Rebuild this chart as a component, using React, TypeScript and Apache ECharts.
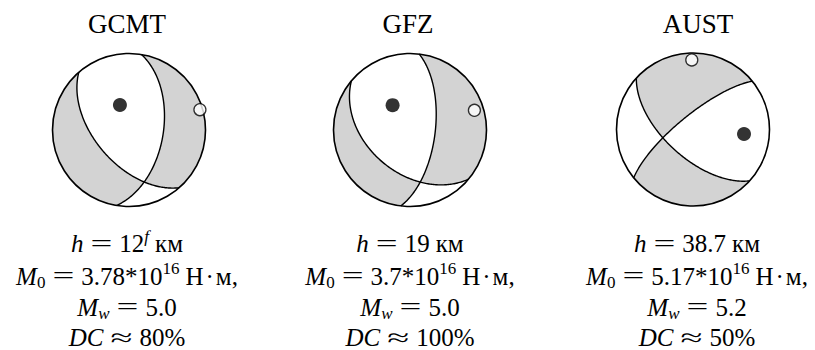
import React, { useEffect, useRef } from "react";
import * as echarts from "echarts";

// ---- data ----
const agencies = ["GCMT", "GFZ", "AUST"];
// nodal planes [strike, dip] (deg)
const plane1 = [[139, 54], [130, 44], [132.2, 60.7]];
const plane2 = [[9.4, 53], [6.9, 63], [230.8, 75]];
// axes [trend, plunge] (deg)
const solidAxis = [[340, 61.6], [325, 57.4], [95, 33.5]];
const openAxis = [[74, 4], [73, 13], [359, 10]];
// annotation values
const depthValues = ["12", "19", "38.7"];
const depthFlags = ["f", "", ""];
const m0Mantissa = ["3.78", "3.7", "5.17"];
const m0Exponent = ["16", "16", "16"];
const mwValues = ["5.0", "5.0", "5.2"];
const dcPercent = ["80", "100", "50"];

// ---- layout ----
const CX = [129, 410, 693];
const CY = [130, 130, 129.5];
const R = 76.5;
const TEXT_X = [127, 410, 697];
const TITLE_X = [127, 408, 698];
const FONT_STACK = "'Liberation Serif', 'Times New Roman', serif";
const GRAY = "#d3d3d3";
const BASE = 25;
const SMALL = 17;
const GAP = 7;
const BASELINES = [252, 284.5, 315.5, 346];
const TITLE_BASELINE = 33.5;
const CENTRAL = 0.3375; // central baseline offset of the font (em)

const rad = Math.PI / 180;
type V = number[];
const dot = (a: V, b: V) => a[0] * b[0] + a[1] * b[1] + a[2] * b[2];
const cross = (a: V, b: V) => [
  a[1] * b[2] - a[2] * b[1],
  a[2] * b[0] - a[0] * b[2],
  a[0] * b[1] - a[1] * b[0],
];
function planeVectors(strike: number, dip: number) {
  const st = strike * rad, dp = dip * rad;
  const s = [Math.cos(st), Math.sin(st), 0];
  const d = [-Math.sin(st) * Math.cos(dp), Math.cos(st) * Math.cos(dp), Math.sin(dp)];
  const n = [-Math.sin(dp) * Math.sin(st), Math.sin(dp) * Math.cos(st), -Math.cos(dp)];
  return { s, d, n, strike };
}
function project(v: V) {
  let w = v;
  if (w[2] < 0) w = [-w[0], -w[1], -w[2]];
  const k = Math.sqrt(1 + w[2]);
  return [w[1] / k, w[0] / k];
}
function axisVec(tp: number[]) {
  const t = tp[0] * rad, p = tp[1] * rad;
  return [Math.cos(p) * Math.cos(t), Math.cos(p) * Math.sin(t), Math.sin(p)];
}
const planePoint = (p: any, a: number) => [
  Math.cos(a) * p.s[0] + Math.sin(a) * p.d[0],
  Math.cos(a) * p.s[1] + Math.sin(a) * p.d[1],
  Math.cos(a) * p.s[2] + Math.sin(a) * p.d[2],
];
const mod360 = (x: number) => ((x % 360) + 360) % 360;

function buildBall(i: number) {
  const P1 = planeVectors(plane1[i][0], plane1[i][1]);
  const P2 = planeVectors(plane2[i][0], plane2[i][1]);
  const planes = [P1, P2];
  let B = cross(P1.n, P2.n);
  const bl = Math.hypot(B[0], B[1], B[2]);
  B = B.map((x) => x / bl);
  if (B[2] < 0) B = B.map((x) => -x);
  const aB = planes.map((p) => Math.atan2(dot(B, p.d), dot(B, p.s)));
  const ends: any[] = [];
  planes.forEach((p, k) => {
    ends.push({ az: mod360(p.strike), k, a: 0 });
    ends.push({ az: mod360(p.strike + 180), k, a: Math.PI });
  });
  ends.sort((a, b) => a.az - b.az);
  const ref = axisVec(solidAxis[i]);
  const refSign = Math.sign(dot(ref, P1.n) * dot(ref, P2.n));
  const N = 80;
  const regions: any[] = [];
  for (let j = 0; j < 4; j++) {
    const P = ends[j], Q = ends[(j + 1) % 4];
    let az2 = Q.az;
    if (az2 <= P.az) az2 += 360;
    const pts: number[][] = [];
    for (let t = 0; t <= N; t++) {
      const az = (P.az + ((az2 - P.az) * t) / N) * rad;
      pts.push([Math.sin(az), Math.cos(az)]);
    }
    for (let t = 1; t <= N; t++) {
      const a = Q.a + ((aB[Q.k] - Q.a) * t) / N;
      pts.push(project(planePoint(planes[Q.k], a)));
    }
    for (let t = 1; t < N; t++) {
      const a = aB[P.k] + ((P.a - aB[P.k]) * t) / N;
      pts.push(project(planePoint(planes[P.k], a)));
    }
    const mid = ((P.az + az2) / 2) * rad;
    const v = [Math.cos(mid), Math.sin(mid), 0];
    const sg = Math.sign(dot(v, P1.n) * dot(v, P2.n));
    regions.push({ pts, shaded: sg !== refSign });
  }
  const lines = planes.map((p) => {
    const pts: number[][] = [];
    for (let t = 0; t <= 2 * N; t++) pts.push(project(planePoint(p, (Math.PI * t) / (2 * N))));
    return pts;
  });
  return { regions, lines };
}

function makeRenderItem(i: number) {
  const ball = buildBall(i);
  return (params: any, api: any) => {
    const c = api.coord([0, 0]);
    const r = api.size([2, 2])[0] / 2;
    const children: any[] = [];
    children.push({
      type: "circle",
      shape: { cx: c[0], cy: c[1], r },
      style: { fill: "#ffffff", stroke: "none" },
    });
    ball.regions.forEach((rg: any) => {
      if (!rg.shaded) return;
      children.push({
        type: "polygon",
        shape: { points: rg.pts.map((p: number[]) => api.coord(p)) },
        style: { fill: GRAY, stroke: "none" },
      });
    });
    ball.lines.forEach((ln) => {
      children.push({
        type: "polyline",
        shape: { points: ln.map((p) => api.coord(p)) },
        style: { fill: "none", stroke: "#000", lineWidth: 1.4 },
      });
    });
    children.push({
      type: "circle",
      shape: { cx: c[0], cy: c[1], r },
      style: { fill: "none", stroke: "#000", lineWidth: 1.6 },
    });
    return { type: "group", children };
  };
}

// ---- text tokens ----
type Tok = { t?: string; it?: boolean; sz?: number; dy?: number; sx?: number; gap?: number };
const it = (t: string): Tok => ({ t, it: true });
const rm = (t: string): Tok => ({ t });
const sup = (t: string, italic = false): Tok => ({ t, it: italic, sz: SMALL, dy: -10 });
const sub = (t: string, italic = false): Tok => ({ t, it: italic, sz: SMALL, dy: 4 });
const op = (t: string, sx: number): Tok => ({ t, sx });
const gap = (g: number): Tok => ({ gap: g });

function textLines(i: number): Tok[][] {
  const l1: Tok[] = [it("h"), gap(GAP), op("=", 1.55), gap(GAP), rm(depthValues[i])];
  if (depthFlags[i]) l1.push(sup(depthFlags[i], true));
  l1.push(gap(6), rm("км"));
  return [
    l1,
    [it("M"), sub("0"), gap(GAP), op("=", 1.55), gap(GAP), rm(`${m0Mantissa[i]}*10`), sup(m0Exponent[i]),
      gap(6), rm("Н"), gap(2), rm("·"), gap(2), rm("м,")],
    [it("M"), sub("w", true), gap(GAP), op("=", 1.55), gap(GAP), rm(mwValues[i])],
    [it("DC"), gap(GAP), op("≈", 1.6), gap(GAP), rm(`${dcPercent[i]}%`)],
  ];
}

const fontOf = (italic: boolean | undefined, size: number) =>
  `${italic ? "italic" : "normal"} ${size}px ${FONT_STACK}`;

export default function App() {
  const ref = useRef<HTMLDivElement>(null);
  useEffect(() => {
    const chart = echarts.init(ref.current!, null, { renderer: "svg" });
    const ctx = document.createElement("canvas").getContext("2d")!;
    const measure = (tk: Tok) => {
      ctx.font = fontOf(tk.it, tk.sz || BASE);
      return ctx.measureText(tk.t || "").width * (tk.sx || 1);
    };
    const grids = agencies.map((_, i) => ({
      left: CX[i] - R,
      top: CY[i] - R,
      width: 2 * R,
      height: 2 * R,
    }));
    const xAxis = agencies.map((_, i) => ({ gridIndex: i, type: "value", min: -1, max: 1, show: false }));
    const yAxis = agencies.map((_, i) => ({ gridIndex: i, type: "value", min: -1, max: 1, show: false }));
    const series: any[] = [];
    agencies.forEach((_, i) => {
      series.push({
        type: "custom",
        xAxisIndex: i,
        yAxisIndex: i,
        data: [[0, 0]],
        renderItem: makeRenderItem(i),
        z: 2,
        silent: true,
      });
      series.push({
        type: "scatter",
        xAxisIndex: i,
        yAxisIndex: i,
        z: 3,
        silent: true,
        data: [
          {
            value: project(axisVec(solidAxis[i])),
            symbolSize: 14,
            itemStyle: { color: "#000", borderColor: "#000", borderWidth: 0 },
          },
          {
            value: project(axisVec(openAxis[i])),
            symbolSize: 12,
            itemStyle: { color: "#fff", borderColor: "#000", borderWidth: 1.3 },
          },
        ],
      });
    });
    const graphic: any[] = [];
    const textEl = (x: number, y: number, text: string, font: string, sx = 1) => ({
      type: "text",
      x,
      y,
      scaleX: sx,
      silent: true,
      style: {
        text,
        font,
        fill: "#000",
        align: "center",
        verticalAlign: "middle",
        textAlign: "center",
        textVerticalAlign: "middle",
      },
    });
    agencies.forEach((name, i) => {
      graphic.push(textEl(TITLE_X[i], TITLE_BASELINE - CENTRAL * 27, name, fontOf(false, 27)));
      textLines(i).forEach((line, k) => {
        const widths = line.map((tk) => (tk.gap != null ? tk.gap : measure(tk)));
        const total = widths.reduce((a, b) => a + b, 0);
        let x = TEXT_X[i] - total / 2;
        line.forEach((tk, j) => {
          if (tk.gap == null) {
            const sz = tk.sz || BASE;
            graphic.push(
              textEl(
                x + widths[j] / 2,
                BASELINES[k] + (tk.dy || 0) - CENTRAL * sz,
                tk.t || "",
                fontOf(tk.it, sz),
                tk.sx || 1
              )
            );
          }
          x += widths[j];
        });
      });
    });
    chart.setOption({
      animation: false,
      backgroundColor: "#ffffff",
      grid: grids,
      xAxis,
      yAxis,
      series,
      graphic,
    });
    return () => chart.dispose();
  }, []);
  return (
    <div
      ref={ref}
      style={{ position: "absolute", left: 0, top: 0, width: 815, height: 350 }}
    />
  );
}
